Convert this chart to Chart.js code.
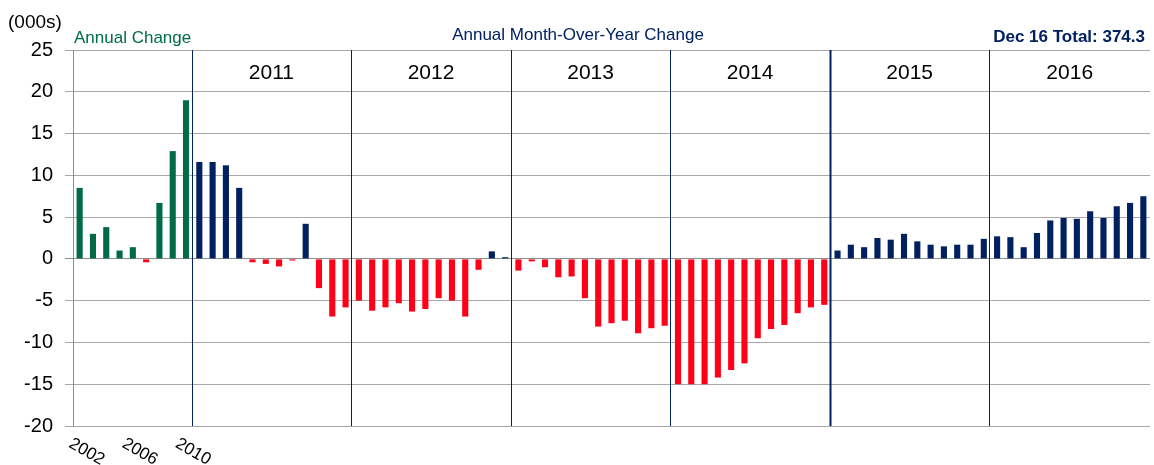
<!DOCTYPE html>
<html>
<head>
<meta charset="utf-8">
<script src="https://cdn.jsdelivr.net/npm/chart.js@4"></script>
<style>
  html, body { margin: 0; padding: 0; background: #fff; }
</style>
</head>
<body>
<canvas id="changeChart" width="1154" height="465"></canvas>
<script>
// Annual change 2002-2010, then month-over-year change by month 2011-2016 (000s)
const annualLabels = ['2002', '2003', '2004', '2005', '2006', '2007', '2008', '2009', '2010'];
const annualChange = [8.5, 3.0, 3.8, 1.0, 1.4, -0.4, 6.7, 12.9, 19.0];
const annualTickLabels = ['2002', '2006', '2010'];

const monthNames = ['Jan', 'Feb', 'Mar', 'Apr', 'May', 'Jun', 'Jul', 'Aug', 'Sep', 'Oct', 'Nov', 'Dec'];
const monthYears = ['2011', '2012', '2013', '2014', '2015', '2016'];
const change2011 = [11.6, 11.6, 11.2, 8.5, -0.4, -0.6, -0.9, -0.2, 4.2, -3.5, -6.9, -5.8];
const change2012 = [-5.0, -6.2, -5.8, -5.3, -6.3, -6.0, -4.7, -5.0, -6.9, -1.3, 0.9, 0.2];
const change2013 = [-1.4, -0.3, -1.0, -2.2, -2.1, -4.7, -8.1, -7.7, -7.4, -8.9, -8.3, -8.0];
const change2014 = [-15.0, -15.0, -15.0, -14.2, -13.3, -12.5, -9.5, -8.4, -7.9, -6.5, -5.8, -5.5];
const change2015 = [1.0, 1.7, 1.4, 2.5, 2.3, 3.0, 2.1, 1.7, 1.5, 1.7, 1.7, 2.4];
const change2016 = [2.7, 2.6, 1.4, 3.1, 4.6, 4.9, 4.8, 5.7, 4.9, 6.3, 6.7, 7.5];

const yMin = -20, yMax = 25, yStep = 5;

const GREEN = '#006B45';
const NAVY = '#002060';
const RED = '#FF0018';

const monthlyChange = [change2011, change2012, change2013, change2014, change2015, change2016];
const labels = annualLabels.slice();
monthYears.forEach(y => monthNames.forEach(m => labels.push(m + ' ' + y)));
const values = annualChange.concat(...monthlyChange);
const colors = values.map((v, i) => v < 0 ? RED : (i < annualLabels.length ? GREEN : NAVY));

const font = 'Liberation Sans, Arial, sans-serif';

// pixel of the boundary in front of category i
function boundary(x, i) {
    return (x.getPixelForValue(i - 1) + x.getPixelForValue(i)) / 2 - 1;
}

const decorations = {
    id: 'decorations',
    beforeDatasetsDraw(chart) {
        const ctx = chart.ctx;
        const x = chart.scales.x;
        const area = chart.chartArea;
        ctx.save();
        ctx.strokeStyle = NAVY;
        monthYears.forEach((y, k) => {
            const px = Math.round(boundary(x, annualLabels.length + k * 12)) + 0.5;
            ctx.lineWidth = y === '2015' ? 2 : 1;
            ctx.beginPath();
            ctx.moveTo(px, area.top);
            ctx.lineTo(px, area.bottom);
            ctx.stroke();
        });
        ctx.restore();
    },
    afterDraw(chart) {
        const ctx = chart.ctx;
        const x = chart.scales.x;
        const area = chart.chartArea;
        ctx.save();
        // year names above each block of months
        ctx.fillStyle = '#000';
        ctx.font = '21px ' + font;
        ctx.textAlign = 'center';
        ctx.textBaseline = 'alphabetic';
        monthYears.forEach((y, k) => {
            const i = annualLabels.length + k * 12;
            const left = boundary(x, i);
            const right = k === monthYears.length - 1 ? area.right : boundary(x, i + 12);
            ctx.fillText(y, (left + right) / 2, 79);
        });
        // slanted annual tick labels
        ctx.font = '17px ' + font;
        ctx.textAlign = 'left';
        ctx.textBaseline = 'top';
        annualTickLabels.forEach(t => {
            const px = x.getPixelForValue(annualLabels.indexOf(t));
            ctx.save();
            ctx.translate(px - 5, area.bottom + 9);
            ctx.rotate(Math.PI / 6);
            ctx.fillText(t, 0, 0);
            ctx.restore();
        });
        // headings
        ctx.textBaseline = 'alphabetic';
        ctx.font = '19px ' + font;
        ctx.fillStyle = '#000';
        ctx.textAlign = 'left';
        ctx.fillText('(000s)', 8, 28);
        ctx.font = '17px ' + font;
        ctx.fillStyle = GREEN;
        ctx.fillText('Annual Change', 74, 43);
        ctx.fillStyle = NAVY;
        ctx.textAlign = 'center';
        ctx.fillText('Annual Month-Over-Year Change', 578, 40);
        ctx.font = 'bold 17px ' + font;
        ctx.textAlign = 'right';
        ctx.fillText('Dec 16 Total: 374.3', 1145, 42);
        ctx.restore();
    }
};

const ctx = document.getElementById('changeChart').getContext('2d');
const changeChart = new Chart(ctx, {
    type: 'bar',
    data: {
        labels: labels,
        datasets: [{
            data: values,
            backgroundColor: colors,
            barPercentage: 0.46,
            categoryPercentage: 1
        }]
    },
    options: {
        responsive: false,
        animation: false,
        layout: { padding: { top: 50, right: 4, left: 1, bottom: 0 } },
        plugins: {
            legend: { display: false },
            tooltip: { enabled: false }
        },
        scales: {
            x: {
                grid: { display: false },
                border: { display: false },
                ticks: { display: false },
                afterFit(scale) { scale.height = 39; }
            },
            y: {
                min: yMin,
                max: yMax,
                ticks: {
                    stepSize: yStep,
                    color: '#000',
                    padding: 12,
                    font: { family: font, size: 20 }
                },
                grid: {
                    color: c => c.tick && c.tick.value === 0 ? '#8C8C8C' : '#A8A8A8',
                    lineWidth: 1,
                    tickLength: 8
                },
                border: { color: '#8C8C8C', width: 1 },
                afterFit(scale) { scale.width = 72; }
            }
        }
    },
    plugins: [decorations]
});
</script>
</body>
</html>
